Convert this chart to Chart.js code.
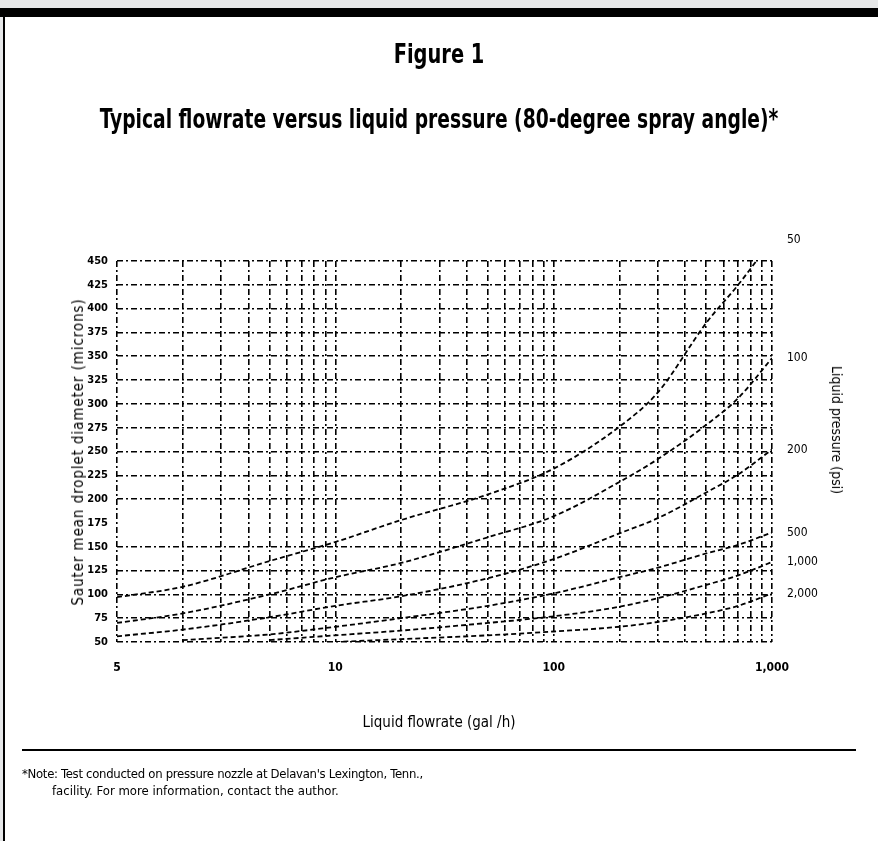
<!DOCTYPE html>
<html lang="en">
<head>
    <meta charset="UTF-8">
    <title>Figure 1 - Typical flowrate versus liquid pressure</title>
    <script src="https://cdn.jsdelivr.net/npm/chart.js"></script>
    <style>
        body {
            margin: 0;
            width: 878px;
            height: 841px;
            overflow: hidden;
            position: relative;
            background: #fff;
            font-family: 'Liberation Sans Narrow', 'DejaVu Sans Condensed', 'Liberation Sans', sans-serif;
            color: #000;
        }

        .abs { position: absolute; white-space: nowrap; }
        #topGray { left: 0; top: 0; width: 878px; height: 8px; background: #e6e7e8; }
        #topBar { left: 0; top: 8px; width: 878px; height: 9px; background: #000; }
        #leftGray { left: 0; top: 17px; width: 3px; height: 824px; background: #e6e7e8; }
        #leftLine { left: 3px; top: 17px; width: 2px; height: 824px; background: #000; }
        #fig { left: 0; width: 878px; top: 38px; text-align: center; font-size: 27px; font-weight: bold; transform: scaleX(0.8); }
        #title { left: 0; width: 878px; top: 104px; text-align: center; font-size: 26px; font-weight: bold; transform: scaleX(0.8); }
        #yTitle { left: 78px; top: 452px; font-size: 15px; letter-spacing: 0.9px; transform: translate(-50%, -50%) rotate(-90deg); }
        #y2Title { left: 837px; top: 430px; font-size: 14px; transform: translate(-50%, -50%) rotate(90deg); }
        #xTitle { left: 0; width: 878px; top: 713px; text-align: center; font-size: 15px; }
        #rule { left: 22px; top: 749px; width: 834px; height: 2px; background: #000; }
        #note1 { left: 22px; top: 766px; font-size: 13px; letter-spacing: -0.3px; }
        #note2 { left: 52px; top: 783px; font-size: 13px; }
        #chartBox { left: 0; top: 0; width: 878px; height: 841px; }
    </style>
</head>
<body>
    <div class="abs" id="topGray"></div>
    <div class="abs" id="topBar"></div>
    <div class="abs" id="leftGray"></div>
    <div class="abs" id="leftLine"></div>
    <div class="abs" id="chartBox"><canvas id="flowChart" width="878" height="841"></canvas></div>
    <div class="abs" id="fig">Figure 1</div>
    <div class="abs" id="title">Typical flowrate versus liquid pressure (80-degree spray angle)*</div>
    <div class="abs" id="yTitle">Sauter mean droplet diameter (microns)</div>
    <div class="abs" id="y2Title">Liquid pressure (psi)</div>
    <div class="abs" id="xTitle">Liquid flowrate (gal /h)</div>
    <div class="abs" id="rule"></div>
    <div class="abs" id="note1">*Note: Test conducted on pressure nozzle at Delavan's Lexington, Tenn.,</div>
    <div class="abs" id="note2">facility. For more information, contact the author.</div>

    <script>
        // flowrate (gal/h) where each curve was read
        const flowrate = [1, 2, 5, 10, 20, 50, 100, 200, 300, 500, 700, 1000];

        // Sauter mean droplet diameter (microns) per liquid pressure
        const smd50psi = [97, 108, 135, 155, 178, 205, 232, 276, 312, 385, 425, 472];
        const smd100psi = [70, 80, 100, 118, 133, 160, 182, 218, 242, 278, 306, 348];
        const smd200psi = [56, 63, 76, 88, 98, 117, 137, 164, 180, 207, 226, 252];
        const smd500psi = [null, 52, 58, 66, 75, 88, 101, 118, 128, 143, 152, 165];
        const smd1000psi = [null, null, 52, 57, 62, 70, 77, 87, 96, 110, 120, 134];
        const smd2000psi = [null, null, null, 50, 53, 57, 61, 66, 71, 80, 88, 101];

        const pressureLabels = ['50', '100', '200', '500', '1,000', '2,000'];
        const curves = [smd50psi, smd100psi, smd200psi, smd500psi, smd1000psi, smd2000psi];

        // x tick labels as printed (decades)
        const xMajor = [1, 10, 100, 1000];
        const xMajorLabels = ['5', '10', '100', '1,000'];
        const smdTicks = [50, 75, 100, 125, 150, 175, 200, 225, 250, 275, 300, 325, 350, 375, 400, 425, 450];

        const fontFam = "'Liberation Sans Narrow', 'DejaVu Sans Condensed', 'Liberation Sans', sans-serif";
        const dashDot = [6, 3, 2, 3];

        const xGridValues = [];
        [1, 10, 100].forEach(d => { for (let i = 1; i < 10; i++) xGridValues.push(d * i); });
        xGridValues.push(1000);

        const datasets = curves.map((c, i) => ({
            label: pressureLabels[i] + ' psi',
            data: flowrate.map((f, j) => ({ x: f, y: c[j] })).filter(p => p.y !== null),
            borderColor: '#000',
            borderWidth: 1.8,
            borderDash: [5, 3],
            pointRadius: 0,
            fill: false,
            cubicInterpolationMode: 'monotone'
        }));

        new Chart(document.getElementById('flowChart'), {
            type: 'line',
            data: { datasets: datasets },
            options: {
                responsive: false,
                animation: false,
                layout: { padding: { top: 261, left: 0, right: 0, bottom: 0 } },
                plugins: {
                    legend: { display: false },
                    tooltip: { enabled: false }
                },
                scales: {
                    x: {
                        type: 'logarithmic',
                        min: 1,
                        max: 1000,
                        afterBuildTicks: (scale) => { scale.ticks = xGridValues.map(v => ({ value: v })); },
                        afterFit: (scale) => { scale.height = 199; },
                        ticks: {
                            autoSkip: false,
                            maxRotation: 0,
                            padding: 19,
                            color: '#000',
                            font: { family: fontFam, size: 12, weight: 'bold' },
                            callback: (value) => {
                                const k = xMajor.indexOf(value);
                                return k >= 0 ? xMajorLabels[k] : '';
                            }
                        },
                        grid: { color: '#000', lineWidth: 1.6, drawTicks: false },
                        border: { display: false, dash: dashDot }
                    },
                    y: {
                        type: 'linear',
                        position: 'left',
                        min: 50,
                        max: 450,
                        afterBuildTicks: (scale) => { scale.ticks = smdTicks.map(v => ({ value: v })); },
                        afterFit: (scale) => { scale.width = 117; },
                        ticks: {
                            padding: 9,
                            color: '#000',
                            font: { family: fontFam, size: 11, weight: 'bold' }
                        },
                        grid: {
                            color: (ctx) => (ctx.tick && ctx.tick.value === 175) ? 'rgba(0,0,0,0)' : '#000',
                            lineWidth: 1.6,
                            drawTicks: false
                        },
                        border: { display: false, dash: dashDot }
                    },
                    y2: {
                        type: 'linear',
                        position: 'right',
                        min: 50,
                        max: 450,
                        afterBuildTicks: (scale) => { scale.ticks = curves.map(c => ({ value: c[c.length - 1] })); },
                        afterFit: (scale) => { scale.width = 106; },
                        ticks: {
                            padding: 15,
                            color: '#000',
                            font: { family: fontFam, size: 12 },
                            callback: (value, index) => pressureLabels[index]
                        },
                        grid: { display: false, drawTicks: false },
                        border: { display: false }
                    }
                }
            }
        });
    </script>
</body>
</html>
